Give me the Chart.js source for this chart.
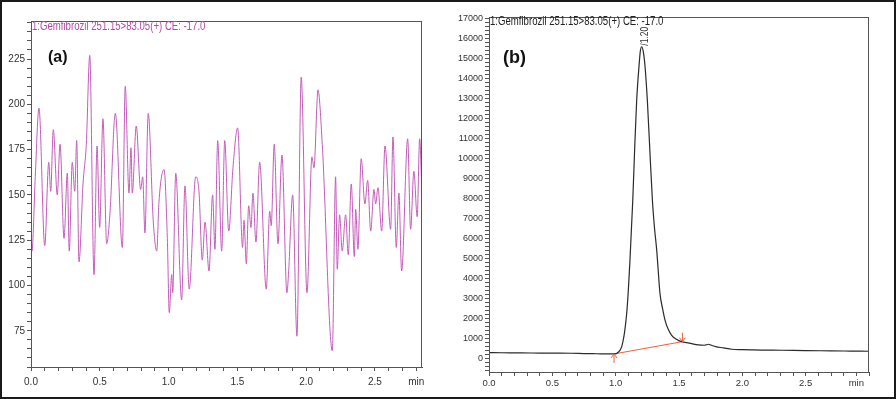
<!DOCTYPE html>
<html>
<head>
<meta charset="utf-8">
<script src="https://cdn.jsdelivr.net/npm/chart.js@4.4.1/dist/chart.umd.min.js"></script>
<style>
    html, body { margin: 0; padding: 0; background: #fff; }
    #wrap { position: relative; width: 896px; height: 399px; overflow: hidden; }
    .painel { position: absolute; top: 0; width: 448px; height: 399px; }
    #borda { position: absolute; left: 0; top: 0; width: 896px; height: 399px; box-sizing: border-box; border: 2px solid #1a1a1a; pointer-events: none; }
</style>
</head>
<body>
<div id="wrap">
    <div class="painel" style="left:0"><canvas id="grafico-a"></canvas></div>
    <div class="painel" style="left:448px"><canvas id="grafico-b"></canvas></div>
    <div id="borda"></div>
</div>
<script>
// (a) ruido - tempo (min) e sinal
const tempoA = [0.000, 0.007, 0.031, 0.058, 0.100, 0.129, 0.143, 0.162, 0.191, 0.211,
    0.240, 0.264, 0.278, 0.300, 0.318, 0.332, 0.349, 0.378, 0.402, 0.427,
    0.458, 0.480, 0.499, 0.523, 0.550, 0.574, 0.613, 0.664, 0.685, 0.712,
    0.727, 0.736, 0.765, 0.797, 0.812, 0.828, 0.852, 0.889, 0.914, 0.930,
    0.967, 0.991, 1.005, 1.023, 1.030, 1.052, 1.095, 1.119, 1.150, 1.197,
    1.221, 1.245, 1.265, 1.294, 1.320, 1.337, 1.357, 1.386, 1.408, 1.437,
    1.468, 1.502, 1.538, 1.548, 1.565, 1.582, 1.599, 1.613, 1.635, 1.662,
    1.710, 1.735, 1.746, 1.768, 1.795, 1.824, 1.860, 1.873, 1.902, 1.933,
    1.964, 2.006, 2.042, 2.057, 2.086, 2.117, 2.190, 2.214, 2.226, 2.243,
    2.262, 2.287, 2.306, 2.328, 2.350, 2.360, 2.376, 2.400, 2.427, 2.447,
    2.469, 2.493, 2.505, 2.522, 2.549, 2.573, 2.614, 2.631, 2.655, 2.674,
    2.694, 2.738, 2.759, 2.783, 2.807, 2.825, 2.844];
const sinalA = [136, 119, 160, 198, 122, 168, 152, 186, 150, 178,
    126, 162, 119, 168, 152, 180, 113, 156, 178, 227,
    106, 177, 132, 192, 123, 140, 195, 121, 210, 151,
    176, 151, 188, 153, 160, 129, 195, 135, 119, 146,
    164, 126, 85, 106, 96, 162, 92, 155, 98, 160,
    152, 114, 135, 108, 150, 120, 180, 119, 180, 130,
    165, 187, 121, 136, 112, 144, 132, 151, 124, 168,
    98, 141, 133, 178, 123, 172, 96, 108, 150, 72,
    215, 96, 171, 165, 208, 178, 64, 160, 109, 139,
    119, 139, 117, 156, 116, 142, 120, 170, 145, 158,
    130, 153, 145, 154, 130, 177, 131, 182, 121, 151,
    108, 181, 131, 163, 138, 181, 142];

// (b) pico do gemfibrozil
const tempoB = [0.00, 0.10, 0.25, 0.40, 0.50, 0.65, 0.75, 0.85, 0.95, 0.99,
    1.02, 1.047, 1.07, 1.087, 1.10, 1.113, 1.135, 1.150, 1.166, 1.184,
    1.195, 1.205, 1.217, 1.232, 1.250, 1.270, 1.290, 1.307, 1.324, 1.350,
    1.370, 1.390, 1.415, 1.442, 1.480, 1.520, 1.580, 1.654, 1.700, 1.733,
    1.760, 1.790, 1.850, 1.917, 2.000, 2.150, 2.313, 2.500, 2.700, 2.850, 3.000];
const sinalB = [280, 275, 265, 260, 255, 250, 235, 225, 215, 215,
    300, 570, 1300, 2240, 3400, 4915, 7920, 10500, 12940, 14610,
    15400, 15610, 15400, 14610, 12940, 10400, 7920, 6500, 5420, 3240,
    2500, 1900, 1450, 1150, 950, 830, 760, 665, 650, 700,
    640, 580, 520, 450, 430, 410, 400, 380, 370, 360, 350];

// linha de base da integracao (inicio e fim)
const baseTempo = [0.987, 1.527];
const baseSinal = [215, 830];

// rotulos dos eixos
const rotulosXA = [0.0, 0.5, 1.0, 1.5, 2.0, 2.5];
const rotulosYA = [75, 100, 125, 150, 175, 200, 225];
const rotulosXB = [0.0, 0.5, 1.0, 1.5, 2.0, 2.5];
const rotulosYB = [0, 1000, 2000, 3000, 4000, 5000, 6000, 7000, 8000, 9000,
    10000, 11000, 12000, 13000, 14000, 15000, 16000, 17000];

const titulo = '1:Gemfibrozil 251.15>83.05(+) CE: -17.0';
const rotuloPico = '/1.20';

const fonte = "'Liberation Sans', Arial, sans-serif";

function pontos(xs, ys) {
    return xs.map((x, i) => ({ x: x, y: ys[i] }));
}

function temRotulo(lista, v) {
    return lista.some(r => Math.abs(r - v) < 1e-6);
}

// marcas menores do eixo
function marcas(ini, fim, passo) {
    const lista = [];
    const n = Math.round((fim - ini) / passo);
    for (let i = 0; i <= n; i++) {
        lista.push({ value: Math.round((ini + i * passo) * 1000) / 1000 });
    }
    return lista;
}

function eixoX(min, max, fimMarcas, rotulos, posMin, tam, pad) {
    return {
        type: 'linear',
        min: min,
        max: max,
        afterFit: s => { s.height = 22; },
        afterBuildTicks: s => { s.ticks = marcas(0, fimMarcas, 0.1); },
        border: { display: true, color: '#444', width: 1 },
        grid: { display: true, drawOnChartArea: false, drawTicks: true, tickLength: 4, color: '#555' },
        ticks: {
            autoSkip: false,
            maxRotation: 0,
            padding: pad,
            color: '#333',
            font: { family: fonte, size: tam },
            callback: v => {
                if (Math.abs(v - posMin) < 1e-6) return 'min';
                return temRotulo(rotulos, v) ? v.toFixed(1) : '';
            }
        }
    };
}

function eixoY(min, max, iniMarcas, fimMarcas, passo, rotulos, largura, tam) {
    return {
        type: 'linear',
        min: min,
        max: max,
        afterFit: s => { s.width = largura; },
        afterBuildTicks: s => { s.ticks = marcas(iniMarcas, fimMarcas, passo); },
        border: { display: true, color: '#444', width: 1 },
        grid: { display: true, drawOnChartArea: false, drawTicks: true, tickLength: 4, color: '#555' },
        ticks: {
            autoSkip: false,
            padding: 2,
            color: '#333',
            font: { family: fonte, size: tam },
            callback: v => temRotulo(rotulos, v) ? String(v) : ''
        }
    };
}

// moldura, titulo e letra do painel
function textos(cfg) {
    return {
        id: 'textos',
        afterDraw(chart) {
            const { ctx, chartArea: a } = chart;
            ctx.save();
            ctx.strokeStyle = '#555';
            ctx.lineWidth = 1;
            ctx.strokeRect(a.left + 0.5, a.top + 0.5, a.right - a.left - 1, a.bottom - a.top);

            // titulo estreito
            ctx.save();
            ctx.translate(a.left + 1, a.top + cfg.dyTitulo);
            ctx.scale(0.8, 1);
            ctx.fillStyle = cfg.corTitulo;
            ctx.font = cfg.tamTitulo + 'px ' + fonte;
            ctx.textBaseline = 'middle';
            ctx.textAlign = 'left';
            ctx.fillText(titulo, 0, 0);
            ctx.restore();

            ctx.fillStyle = '#111';
            ctx.font = 'bold ' + cfg.tamLetra + 'px ' + fonte;
            ctx.textBaseline = 'middle';
            ctx.fillText(cfg.letra, cfg.xLetra, cfg.yLetra);

            if (cfg.extra) cfg.extra(chart, ctx);
            ctx.restore();
        }
    };
}

function desenharPico(chart, ctx) {
    const x = chart.scales.x;
    const y = chart.scales.y;
    // rotulo vertical do pico
    ctx.save();
    ctx.translate(x.getPixelForValue(1.236), y.getPixelForValue(15610) - 1);
    ctx.rotate(-Math.PI / 2);
    ctx.scale(0.85, 1);
    ctx.fillStyle = '#333';
    ctx.font = '10px ' + fonte;
    ctx.textAlign = 'left';
    ctx.textBaseline = 'middle';
    ctx.fillText(rotuloPico, 0, 0);
    ctx.restore();

    // setas do inicio e fim da integracao
    ctx.strokeStyle = '#f0603c';
    ctx.lineWidth = 1;
    const seta = (px, py, dir) => {
        ctx.beginPath();
        ctx.moveTo(px, py);
        ctx.lineTo(px, py + dir * 9);
        ctx.moveTo(px - 3, py + dir * 4);
        ctx.lineTo(px, py);
        ctx.lineTo(px + 3, py + dir * 4);
        ctx.stroke();
    };
    seta(x.getPixelForValue(baseTempo[0]), y.getPixelForValue(baseSinal[0]), 1);
    seta(x.getPixelForValue(baseTempo[1]), y.getPixelForValue(baseSinal[1]), -1);
}

new Chart(document.getElementById('grafico-a'), {
    type: 'line',
    data: {
        datasets: [{
            data: pontos(tempoA, sinalA),
            borderColor: '#c45cba',
            borderWidth: 1,
            pointRadius: 0,
            cubicInterpolationMode: 'monotone'
        }]
    },
    options: {
        responsive: true,
        maintainAspectRatio: false,
        animation: false,
        layout: { padding: { top: 21, right: 26, bottom: 10, left: 0 } },
        scales: {
            x: eixoX(0, 2.842, 2.8, rotulosXA, 2.8, 10, 5),
            y: eixoY(55, 246, 55, 245, 5, rotulosYA, 31, 10)
        },
        plugins: { legend: { display: false }, tooltip: { enabled: false } }
    },
    plugins: [textos({ corTitulo: '#b24aa8', tamTitulo: 12, dyTitulo: 6, letra: '(a)', tamLetra: 16, xLetra: 48, yLetra: 58 })]
});

new Chart(document.getElementById('grafico-b'), {
    type: 'line',
    data: {
        datasets: [
            {
                data: pontos(tempoB, sinalB),
                borderColor: '#2b2b2b',
                borderWidth: 1.2,
                pointRadius: 0,
                cubicInterpolationMode: 'monotone'
            },
            {
                data: pontos(baseTempo, baseSinal),
                borderColor: '#f0603c',
                borderWidth: 1,
                pointRadius: 0,
                tension: 0
            }
        ]
    },
    options: {
        responsive: true,
        maintainAspectRatio: false,
        animation: false,
        layout: { padding: { top: 17, right: 27, bottom: 5, left: 0 } },
        scales: {
            x: eixoX(0, 3.0, 3.0, rotulosXB, 2.9, 9.5, 2),
            y: eixoY(-690, 17100, -600, 17000, 200, rotulosYB, 41, 9)
        },
        plugins: { legend: { display: false }, tooltip: { enabled: false } }
    },
    plugins: [textos({ corTitulo: '#222', tamTitulo: 12, dyTitulo: 5, letra: '(b)', tamLetra: 18, xLetra: 55, yLetra: 58, extra: desenharPico })]
});
</script>
</body>
</html>
